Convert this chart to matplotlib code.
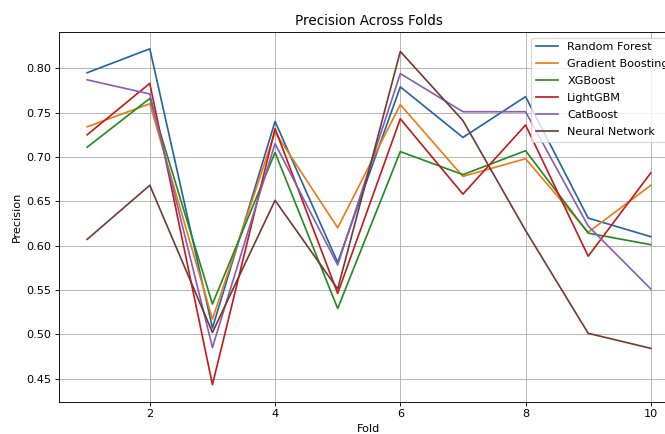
import matplotlib
matplotlib.use("Agg")
import matplotlib.pyplot as plt

folds = [1, 2, 3, 4, 5, 6, 7, 8, 9, 10]

random_forest = [0.795, 0.822, 0.507, 0.740, 0.581, 0.779, 0.722, 0.768, 0.631, 0.610]
gradient_boosting = [0.734, 0.760, 0.517, 0.728, 0.620, 0.759, 0.678, 0.698, 0.615, 0.668]
xgboost = [0.711, 0.766, 0.534, 0.705, 0.529, 0.706, 0.680, 0.707, 0.614, 0.601]
lightgbm = [0.725, 0.783, 0.443, 0.732, 0.546, 0.743, 0.658, 0.736, 0.588, 0.682]
catboost = [0.787, 0.771, 0.485, 0.715, 0.578, 0.794, 0.751, 0.751, 0.622, 0.551]
neural_network = [0.607, 0.668, 0.502, 0.651, 0.551, 0.819, 0.741, 0.617, 0.501, 0.484]

models = ["Random Forest", "Gradient Boosting", "XGBoost", "LightGBM", "CatBoost", "Neural Network"]
series = [random_forest, gradient_boosting, xgboost, lightgbm, catboost, neural_network]
colors = ["#1f64a6", "#ef7a12", "#1f8c1f", "#c41a1c", "#8a5cb4", "#733a30"]

DPI = 81


def main():
    fig = plt.figure(figsize=(666 / DPI, 434 / DPI), dpi=DPI)
    # axes run past the right edge, as in the cropped original
    ax = fig.add_axes([59 / 666, 1 - 401.5 / 434, 620 / 666, 369.5 / 434])
    for name, values, c in zip(models, series, colors):
        ax.plot(folds, values, label=name, color=c)
    ax.set_title("Precision Across Folds")
    ax.set_xlabel("Fold")
    ax.set_ylabel("Precision")
    ax.legend(loc="upper right", labelspacing=0.62)
    ax.grid(True)
    fig.savefig("out.png", dpi=DPI)


if __name__ == "__main__":
    main()
